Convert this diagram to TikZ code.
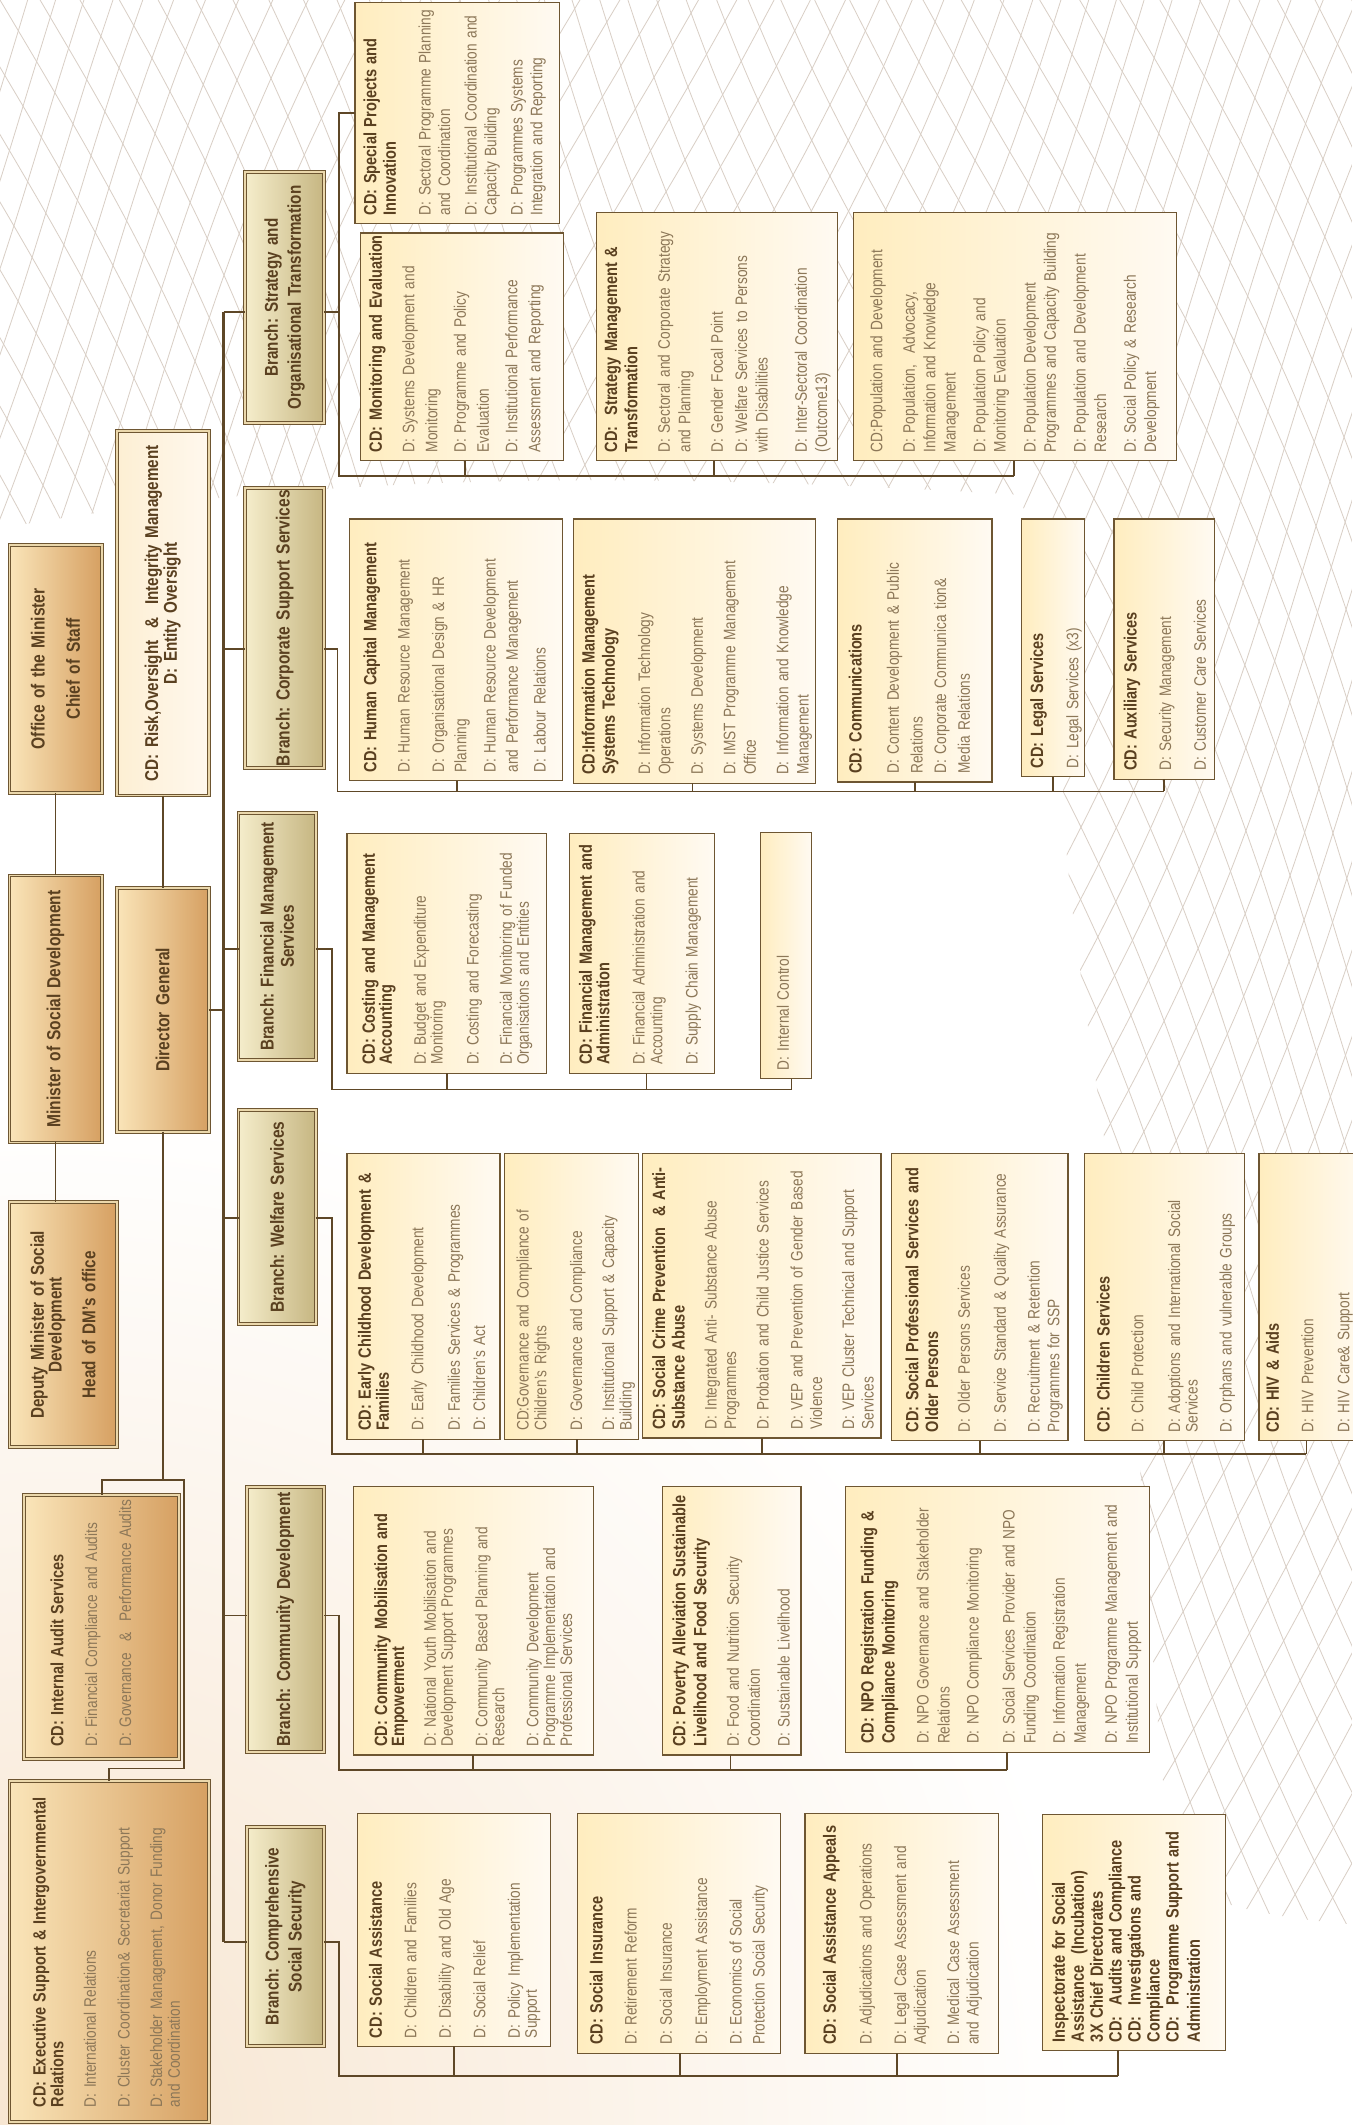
\documentclass[tikz,border=0pt]{standalone}
\usepackage{fontspec}
\setmainfont{Liberation Sans}[FakeStretch=0.82]
\usetikzlibrary{calc}

\definecolor{linebrown}{HTML}{5E4727}
\definecolor{framebrown}{HTML}{6E5632}
\definecolor{headbrown}{HTML}{5A4020}
\definecolor{dbrown}{HTML}{8C7758}
\definecolor{cdleft}{HTML}{FFEDBF}
\definecolor{cdright}{HTML}{FFFAF2}
\definecolor{topleft}{HTML}{FAE5B9}
\definecolor{topright}{HTML}{D6A062}
\definecolor{brleft}{HTML}{F5EDCB}
\definecolor{brright}{HTML}{C6B682}
\definecolor{riskleft}{HTML}{FDEFD3}
\definecolor{riskright}{HTML}{FFF8EE}
\definecolor{dblfill}{HTML}{EBD8AC}
\definecolor{meshclr}{HTML}{D9CFC6}
\definecolor{glow}{HTML}{F7E5D0}

\tikzset{
  boxline/.style={draw=framebrown, line width=0.9pt, inner sep=0pt, outer sep=0pt},
  cdframe/.style={boxline, left color=cdleft, right color=cdright},
  dblframe/.style={boxline, line width=0.75pt, double=dblfill, double distance=1.4pt},
  topframe/.style={dblframe, left color=topleft, right color=topright},
  riskframe/.style={dblframe, left color=riskleft, right color=riskright},
  brframe/.style={dblframe, left color=brleft, right color=brright},
  boxtext/.style={rotate=90, anchor=north west, align=left, text=dbrown, inner xsep=6pt, inner ysep=6pt, font=\fontsize{12.3}{13}\selectfont},
  ctrtext/.style={rotate=90, anchor=center, align=center, text=headbrown, inner sep=0pt, font=\fontsize{14}{13.5}\bfseries\selectfont},
  lead/.style={font=\fontsize{12.3}{#1}\selectfont},
  ctrlead/.style={font=\fontsize{13.7}{#1}\bfseries\selectfont},
  link/.style={draw=linebrown, line width=1.3pt},
  trunk/.style={link, line width=1.7pt},
  mesh/.style={draw=meshclr, line width=0.6pt},
}

\newcommand{\hd}[1]{{\color{headbrown}\fontsize{13.1}{14}\bfseries\selectfont #1}}

% frame + text set from the bottom left corner
\newcommand{\orgbox}[8]{%
  \pgfmathsetmacro{\boxw}{#5-#3}%
  \pgfmathsetmacro{\boxh}{#6-#4}%
  \pgfmathsetmacro{\textw}{#6-#4+10}%
  \node[#1, minimum width=\boxw pt, minimum height=\boxh pt, anchor=north west] (#2) at (#3,#4) {};
  \node[boxtext, text width=\textw pt, #7] (#2-txt) at (#2.south west) {#8};}

% frame + centred text
\newcommand{\midbox}[8]{%
  \pgfmathsetmacro{\boxw}{#5-#3}%
  \pgfmathsetmacro{\boxh}{#6-#4}%
  \pgfmathsetmacro{\textw}{#6-#4+30}%
  \node[#1, minimum width=\boxw pt, minimum height=\boxh pt, anchor=north west] (#2) at (#3,#4) {};
  \node[ctrtext, text width=\textw pt, #7] (#2-txt) at (#2.center) {#8};}

\frenchspacing

\begin{document}
\begin{tikzpicture}[x=1pt, y=-1pt]
\useasboundingbox (0,0) rectangle (998,1568);
\fill[white] (0,0) rectangle (998,1568);
\shade[inner color=glow, outer color=white] (40,1568) circle (760);

% background mesh
\begin{scope}
\clip (0,0) -- (998,0) -- (998,1420) .. controls (940,1415) and (880,1405) .. (865,1380)
  .. controls (850,1250) and (845,1120) .. (835,1000) .. controls (820,850) and (790,700) .. (785,600)
  .. controls (780,450) and (770,400) .. (750,365) .. controls (500,350) and (250,345) .. (0,390) -- cycle;
\foreach \k in {-30,...,70} {
  \draw[mesh] plot[smooth, variable=\t, domain=0:1568, samples=30] ({\k*25+0.45*\t+24*sin(0.35*\t+11*\k)}, {\t});
  \draw[mesh] plot[smooth, variable=\t, domain=0:1568, samples=30] ({\k*25-0.45*\t+24*sin(0.35*\t-11*\k)}, {\t});
}
\end{scope}

% connectors
\coordinate (trunktop) at (165,230);
\coordinate (trunkbot) at (165,1433);
\coordinate (dgsplit) at (120,1092);
\coordinate (auditrail) at (136,1092);
\coordinate (execbend) at (136,1305);

% boxes: top management
\midbox{topframe}{office}{7}{402}{75}{585}{}{Office of the Minister\\[12.5pt]Chief of Staff}
\midbox{topframe}{minister}{7}{646}{75}{843}{}{Minister of Social Development}
\midbox{topframe}{deputy}{7}{887}{86}{1068}{ctrlead=13}{Deputy Minister of Social\\Development\\[12pt]Head of DM's office}
\midbox{riskframe}{risk}{86}{318}{154}{587}{ctrlead=12.5}{CD: Risk,Oversight \ \&\ \ Integrity Management\\D: Entity Oversight}
\midbox{topframe}{dg}{86}{655}{154}{835}{}{Director General}
\orgbox{topframe}{audit}{18}{1103}{132}{1298}{lead=13, inner ysep=19pt, inner xsep=9pt}{\hd{CD: Internal Audit Services}\\[12pt]D: Financial Compliance and Audits\\[12pt]D: Governance \ \&\ \ Performance Audits}
\orgbox{topframe}{execsup}{7}{1314}{154}{1566}{lead=13, inner ysep=17pt, inner xsep=11pt}{\hd{CD: Executive Support \& Intergovernmental\\Relations}\\[11pt]D: International Relations\\[12pt]D: Cluster Coordination\& Secretariat Support\\[11pt]D: Stakeholder Management, Donor Funding\\and Coordination}

\draw[link] (office.south) -- (minister.north);
\draw[link] (minister.south) -- (minister.south |- deputy.north);
\draw[link] (risk.south) -- (dg.north);
\draw[link] (dg.south) -- (dgsplit);
\draw[link] (audit.north) |- (auditrail) -- (execbend) -| (execsup.north);
\draw[trunk] (trunktop) -- (trunkbot);
\draw[link] (dg.east) -- (dg.east -| trunktop);

% branches
\midbox{brframe}{brstrat}{181}{127}{239}{312}{ctrlead=17}{Branch: Strategy and\\Organisational Transformation}
\midbox{brframe}{brcorp}{181}{360}{239}{567}{}{Branch: Corporate Support Services}
\midbox{brframe}{brfin}{176}{600}{233}{782}{ctrlead=15}{Branch: Financial Management\\Services}
\midbox{brframe}{brwel}{176}{819}{233}{977}{}{Branch: Welfare Services}
\midbox{brframe}{brcom}{182}{1097}{239}{1293}{}{Branch: Community Development}
\midbox{brframe}{brsoc}{182}{1348}{239}{1510}{ctrlead=17}{Branch: Comprehensive\\Social Security}

\foreach \b/\by/\rx/\ry/\ex in {brstrat/230/250/351/748, brcorp/479/249/584/859, brfin/700/245/804/584,
  brwel/899/245/1073/964, brcom/1192/250/1306/743, brsoc/1433/250/1532/825} {
  \draw[link] (165,\by) -- (\b.west |- 0,\by);
  \draw[link] (\b.east |- 0,\by) -| (\rx,\ry) -- (\ex,\ry);
}

% strategy and organisational transformation
\orgbox{cdframe}{spi}{262}{2}{413}{165}{lead=14.5}{\hd{CD: Special Projects and\\Innovation}\\[11pt]D: Sectoral Programme Planning\\and Coordination\\[5pt]D: Institutional Coordination and\\Capacity Building\\[5pt]D: Programmes Systems\\Integration and Reporting}
\orgbox{cdframe}{mne}{266}{172}{416}{340}{lead=17}{\hd{CD: Monitoring and Evaluation}\\[7pt]D: Systems Development and\\Monitoring\\[4pt]D: Programme and Policy\\Evaluation\\[4pt]D: Institutional Performance\\Assessment and Reporting}
\orgbox{cdframe}{smt}{440}{157}{618}{340}{lead=15}{\hd{CD: \ Strategy Management \&\\Transformation}\\[9pt]D: Sectoral and Corporate Strategy\\and Planning\\[9pt]D: Gender Focal Point\\[3pt]D: Welfare Services to Persons\\with Disabilities\\[14pt]D: Inter-Sectoral Coordination\\(Outcome13)}
\orgbox{cdframe}{pnd}{630}{157}{868}{340}{lead=15, inner ysep=12pt}{CD:Population and Development\\[9pt]D: Population, \ Advocacy,\\Information and Knowledge\\Management\\[7pt]D: Population Policy and\\Monitoring Evaluation\\[7pt]D: Population Development\\Programmes and Capacity Building\\[7pt]D: Population and Development\\Research\\[7pt]D: Social Policy \& Research\\Development}
\draw[link] (spi.west) -| (250,351);

% corporate support services
\orgbox{cdframe}{hcm}{258}{383}{415}{576}{lead=16.5, inner ysep=10pt}{\hd{CD: Human Capital Management}\\[8pt]D: Human Resource Management\\[9pt]D: Organisational Design \& HR\\Planning\\[5pt]D: Human Resource Development\\and Performance Management\\[4pt]D: Labour Relations}
\orgbox{cdframe}{imst}{423}{383}{602}{578}{lead=15}{\hd{CD:Information Management\\Systems Technology}\\[11pt]D: Information Technology\\Operations\\[9pt]D: Systems Development\\[9pt]D: IMST Programme Management\\Office\\[9pt]D: Information and Knowledge\\Management}
\orgbox{cdframe}{comm}{618}{383}{732}{577}{lead=17.5, inner ysep=8pt}{\hd{CD: Communications}\\[10pt]D: Content Development \& Public\\Relations\\D: Corporate Communica tion\&\\Media Relations}
\orgbox{cdframe}{legal}{754}{383}{800}{573}{lead=13}{\hd{CD: Legal Services}\\[13pt]D: Legal Services (x3)}
\orgbox{cdframe}{aux}{822}{383}{896}{575}{lead=13, inner ysep=7pt}{\hd{CD: Auxiliary Services}\\[12.5pt]D: Security Management\\[12.5pt]D: Customer Care Services}

% financial management services
\orgbox{cdframe}{cma}{256}{615}{403}{792}{lead=12.5, inner ysep=11pt}{\hd{CD: Costing and Management\\Accounting}\\[12.5pt]D: Budget and Expenditure\\Monitoring\\[14pt]D: Costing and Forecasting\\[12pt]D: Financial Monitoring of Funded\\Organisations and Entities}
\orgbox{cdframe}{fma}{420}{615}{527}{792}{lead=13, inner ysep=7pt}{\hd{CD: Financial Management and\\Administration}\\[13pt]D: Financial Administration and\\Accounting\\[13pt]D: Supply Chain Management}
\orgbox{cdframe}{intc}{561}{614}{599}{796}{lead=13, inner ysep=12pt}{D: Internal Control}

% welfare services
\orgbox{cdframe}{ecd}{256}{851}{369}{1062}{lead=12, inner ysep=8pt}{\hd{CD: Early Childhood Development \&\\Families}\\[13.5pt]D: Early Childhood Development\\[15pt]D: Families Services \& Programmes\\[6.5pt]D: Children's Act}
\orgbox{cdframe}{gov}{372}{851}{471}{1062}{lead=13, inner ysep=9pt}{CD:Governance and Compliance of\\Children's Rights\\[13.5pt]D: Governance and Compliance\\[10.5pt]D: Institutional Support \& Capacity\\Building}
\orgbox{cdframe}{scp}{474}{851}{650}{1061}{lead=14.5, inner ysep=7pt}{\hd{CD: Social Crime Prevention \ \& Anti-\\Substance Abuse}\\[9pt]D: Integrated Anti- Substance Abuse\\Programmes\\[9.5pt]D: Probation and Child Justice Services\\[10.5pt]D: VEP and Prevention of Gender Based\\Violence\\[9pt]D: VEP Cluster Technical and Support\\Services}
\orgbox{cdframe}{spo}{658}{851}{788}{1063}{lead=14.5, inner ysep=10pt}{\hd{CD: Social Professional Services and\\Older Persons}\\[9pt]D: Older Persons Services\\[12pt]D: Service Standard \& Quality Assurance\\[10.5pt]D: Recruitment \& Retention\\Programmes for SSP}
\orgbox{cdframe}{chs}{800}{851}{918}{1063}{lead=13, inner ysep=9pt}{\hd{CD: Children Services}\\[12pt]D: Child Protection\\[14pt]D: Adoptions and International Social\\Services\\[12pt]D: Orphans and vulnerable Groups}
\orgbox{cdframe}{hiv}{929}{851}{1010}{1063}{lead=13, inner ysep=5pt}{\hd{CD: HIV \& Aids}\\[12.5pt]D: HIV Prevention\\[13.5pt]D: HIV Care\& Support}

% community development
\orgbox{cdframe}{cmob}{261}{1097}{438}{1295}{lead=12.5, inner ysep=15pt}{\hd{CD: Community Mobilisation and\\Empowerment}\\[11pt]D: National Youth Mobilisation and\\Development Support Programmes\\[13pt]D: Community Based Planning and\\Research\\[12.5pt]D: Community Development\\Programme Implementation and\\Professional Services}
\orgbox{cdframe}{pov}{489}{1097}{591}{1295}{lead=15.5, inner ysep=7pt}{\hd{CD: Poverty Alleviation Sustainable\\Livelihood and Food Security}\\[8.5pt]D: Food and Nutrition Security\\Coordination\\[6.5pt]D: Sustainable Livelihood}
\orgbox{cdframe}{npo}{624}{1097}{848}{1293}{lead=15.5, inner ysep=11pt}{\hd{CD: NPO Registration Funding \&\\Compliance Monitoring}\\[9.5pt]D: NPO Governance and Stakeholder\\Relations\\[6pt]D: NPO Compliance Monitoring\\[11pt]D: Social Services Provider and NPO\\Funding Coordination\\[6pt]D: Information Registration\\Management\\[7.5pt]D: NPO Programme Management and\\Institutional Support}

% comprehensive social security
\orgbox{cdframe}{sas}{264}{1338}{406}{1510}{lead=12.5, inner ysep=8pt}{\hd{CD: Social Assistance}\\[13pt]D: Children and Families\\[13pt]D: Disability and Old Age\\[13pt]D: Social Relief\\[13pt]D: Policy Implementation\\Support}
\orgbox{cdframe}{sin}{426}{1338}{576}{1515}{lead=17, inner ysep=9pt}{\hd{CD: Social Insurance}\\[8pt]D: Retirement Reform\\[9pt]D: Social Insurance\\[9pt]D: Employment Assistance\\[8.5pt]D: Economics of Social\\Protection Social Security}
\orgbox{cdframe}{sap}{594}{1338}{737}{1515}{lead=14.5, inner ysep=13pt}{\hd{CD: Social Assistance Appeals}\\[12pt]D: Adjudications and Operations\\[11pt]D: Legal Case Assessment and\\Adjudication\\[10pt]D: Medical Case Assessment\\and Adjudication}
\orgbox{cdframe}{insp}{769}{1339}{904}{1513}{lead=15.6, inner ysep=7pt}{\hd{Inspectorate for Social\\Assistance \ (Incubation)\\3X Chief Directorates\\CD: \ Audits and Compliance\\CD: \ Investigations and\\Compliance\\CD: \ Programme Support and\\Administration}}

\foreach \n/\sx/\ry in {mne/343/351, smt/527/351, pnd/748/351,
  hcm/337/584, imst/511/584, comm/675/584, legal/777/584, aux/859/584,
  cma/330/804, fma/477/804, intc/584/804,
  ecd/312/1073, gov/426/1073, scp/562/1073, spo/723/1073, chs/859/1073, hiv/964/1073,
  cmob/349/1306, pov/539/1306, npo/743/1306,
  sas/335/1532, sin/502/1532, sap/662/1532, insp/825/1532}
  \draw[link] (\n.south -| \sx,0) -- (\sx,\ry);
\end{tikzpicture}
\end{document}
